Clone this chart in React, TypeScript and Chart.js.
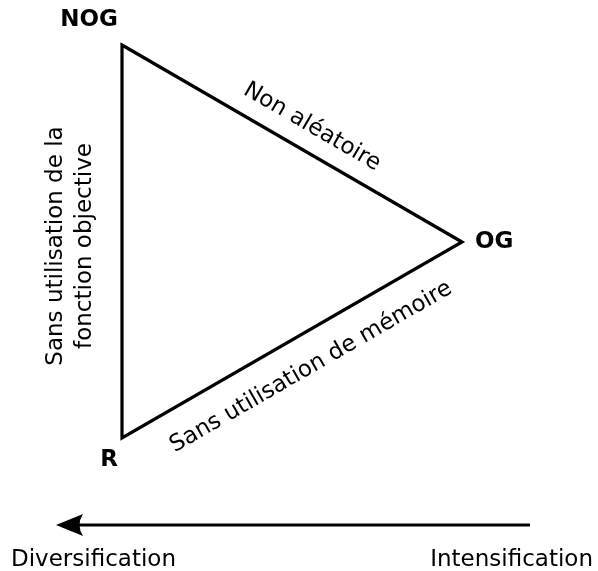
import React, { useEffect, useRef } from "react";
import { Chart, registerables } from "chart.js";

Chart.register(...registerables);

// Triangle vertices (diagram units: x to the right, y downward)
const vertexNames = ["NOG", "OG", "R"];
const vertexX = [122, 462, 122];
const vertexY = [45, 242, 438];

// Edge labels
const edgeLabels = ["Non aléatoire", "Sans utilisation de mémoire"];
const sideLabelLines = ["Sans utilisation de la", "fonction objective"];

// Axis arrow (from intensification towards diversification)
const arrowX = [530, 56];
const arrowY = [525, 525];
const axisLabels = ["Diversification", "Intensification"];

const FONT = "'DejaVu Sans', sans-serif";

const labelPlugin = {
  id: "diagramLabels",
  afterDatasetsDraw(chart: any) {
    const ctx = chart.ctx as CanvasRenderingContext2D;
    const xs = chart.scales.x;
    const ys = chart.scales.y;
    const px = (v: number) => xs.getPixelForValue(v);
    const py = (v: number) => ys.getPixelForValue(v);
    ctx.save();
    ctx.fillStyle = "#000";

    // Vertex labels
    ctx.font = `bold 23px ${FONT}`;
    ctx.textBaseline = "middle";
    ctx.textAlign = "center";
    ctx.fillText(vertexNames[0], px(vertexX[0]) - 33, py(vertexY[0]) - 25);
    ctx.textAlign = "left";
    ctx.fillText(vertexNames[1], px(vertexX[1]) + 13, py(vertexY[1]));
    ctx.textAlign = "center";
    ctx.fillText(vertexNames[2], px(vertexX[2]) - 13, py(vertexY[2]) + 22);

    // Edge labels
    ctx.font = `23px ${FONT}`;
    const a1 = Math.atan2(py(vertexY[1]) - py(vertexY[0]), px(vertexX[1]) - px(vertexX[0]));
    ctx.save();
    ctx.translate(312, 127);
    ctx.rotate(a1);
    ctx.textAlign = "center";
    ctx.textBaseline = "middle";
    ctx.fillText(edgeLabels[0], 0, 0);
    ctx.restore();

    const a2 = Math.atan2(py(vertexY[1]) - py(vertexY[2]), px(vertexX[1]) - px(vertexX[2]));
    ctx.save();
    ctx.translate(311, 367);
    ctx.rotate(a2);
    ctx.textAlign = "center";
    ctx.textBaseline = "middle";
    ctx.fillText(edgeLabels[1], 0, 0);
    ctx.restore();

    // Left side label (vertical)
    ctx.save();
    ctx.translate(0, 246);
    ctx.rotate(-Math.PI / 2);
    ctx.textAlign = "center";
    ctx.textBaseline = "alphabetic";
    ctx.fillText(sideLabelLines[0], 0, 62);
    ctx.fillText(sideLabelLines[1], 0, 91);
    ctx.restore();

    // Arrow head
    const tipX = px(arrowX[1]);
    const tipY = py(arrowY[1]);
    ctx.beginPath();
    ctx.moveTo(tipX, tipY);
    ctx.lineTo(tipX + 27, tipY - 11);
    ctx.quadraticCurveTo(tipX + 20, tipY, tipX + 27, tipY + 11);
    ctx.closePath();
    ctx.fill();

    // Axis labels
    ctx.textBaseline = "alphabetic";
    ctx.textAlign = "left";
    ctx.fillText(axisLabels[0], 11, 566);
    ctx.textAlign = "right";
    ctx.fillText(axisLabels[1], 593, 566);

    ctx.restore();
  },
};

export default function App() {
  const ref = useRef<HTMLCanvasElement | null>(null);
  useEffect(() => {
    if (!ref.current) return;
    const tri = [0, 1, 2, 0, 1].map((i) => ({ x: vertexX[i], y: vertexY[i] }));
    const arrow = [
      { x: arrowX[0], y: arrowY[0] },
      { x: arrowX[1] + 18, y: arrowY[1] },
    ];
    const chart = new Chart(ref.current, {
      type: "scatter",
      data: {
        datasets: [
          {
            data: tri,
            showLine: true,
            borderColor: "#000",
            borderWidth: 3.2,
            borderJoinStyle: "miter",
            borderCapStyle: "butt",
            pointRadius: 0,
            tension: 0,
          } as any,
          {
            data: arrow,
            showLine: true,
            borderColor: "#000",
            borderWidth: 3.2,
            borderCapStyle: "butt",
            pointRadius: 0,
          } as any,
        ],
      },
      options: {
        animation: false,
        responsive: true,
        maintainAspectRatio: false,
        layout: { padding: 0 },
        plugins: { legend: { display: false }, tooltip: { enabled: false } },
        events: [],
        scales: {
          x: { type: "linear", min: 0, max: 598, display: false },
          y: { type: "linear", min: 0, max: 571, reverse: true, display: false },
        },
      },
      plugins: [labelPlugin],
    });
    return () => chart.destroy();
  }, []);
  return (
    <div style={{ position: "fixed", left: 0, top: 0, width: 598, height: 571, background: "#fff" }}>
      <canvas ref={ref} />
    </div>
  );
}
